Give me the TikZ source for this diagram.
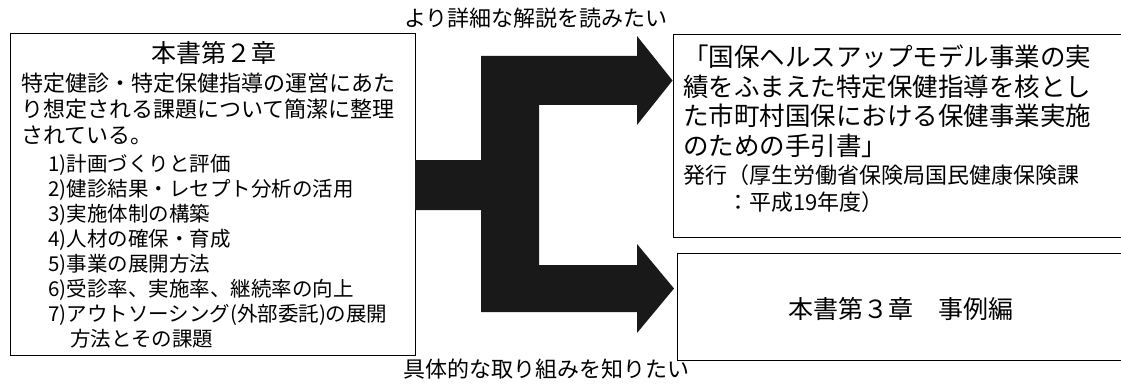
\documentclass[tikz,border=0pt]{standalone}
\usepackage{fontspec}
\setmainfont{Noto Sans CJK JP}
\begin{document}
\begin{tikzpicture}[x=1pt,y=-1pt,
  box/.style={draw=black, line width=1.3pt, fill=white, inner sep=0pt, anchor=north west},
  jp/.style={inner sep=0pt, text=black},
  flow/.style={fill=black!90}]
\useasboundingbox (0,0) rectangle (1121,385);
% boxes
\node[box, minimum width=405pt, minimum height=322pt] (ch2) at (10,33) {};
\node[box, minimum width=470pt, minimum height=203pt] (guide) at (673,34) {};
\node[box, minimum width=470pt, minimum height=107pt] (ch3) at (677,253) {};
% flow arrow
\coordinate (s1) at (415,160);
\coordinate (s2) at (415,210);
\fill[flow] (s1) -- (481,160) -- (481,56) -- (637,56) -- (637,36) -- (672.5,80.5)
  -- (637,125) -- (637,105) -- (539,105) -- (539,265) -- (637,265) -- (637,244)
  -- (674,288.5) -- (637,333) -- (637,312) -- (481,312) -- (481,210) -- (s2) -- cycle;
% left box texts
\node[jp, font=\fontsize{25}{28}\selectfont] (t2) at (214,53) {本書第２章};
\node[jp, anchor=west, align=left, font=\fontsize{22}{26}\selectfont] (p2) at (21,109)
  {特定健診・特定保健指導の運営にあた\\り想定される課題について簡潔に整理\\されている。};
\node[jp, anchor=west, align=left, font=\fontsize{20.5}{25}\selectfont] (l2) at (48,251)
  {1)計画づくりと評価\\2)健診結果・レセプト分析の活用\\3)実施体制の構築\\4)人材の確保・育成\\5)事業の展開方法\\6)受診率、実施率、継続率の向上\\7)アウトソーシング(外部委託)の展開\\\hspace*{22pt}方法とその課題};
% right top texts
\node[jp, anchor=west, align=left, font=\fontsize{25.5}{29.5}\selectfont] (g1) at (683,101)
  {「国保ヘルスアップモデル事業の実\\績をふまえた特定保健指導を核とし\\た市町村国保における保健事業実施\\のための手引書」};
\node[jp, anchor=west, align=left, font=\fontsize{22}{27}\selectfont] (g2) at (683,188.5)
  {発行（厚生労働省保険局国民健康保険課\\　　：平成19年度）};
% right bottom text
\node[jp, font=\fontsize{25}{28}\selectfont] (c3) at (901,309) {本書第３章　事例編};
% labels
\node[jp, font=\fontsize{22}{26}\selectfont] (lab1) at (536,18) {より詳細な解説を読みたい};
\node[jp, font=\fontsize{22}{26}\selectfont] (lab2) at (546,369) {具体的な取り組みを知りたい};
\end{tikzpicture}
\end{document}
